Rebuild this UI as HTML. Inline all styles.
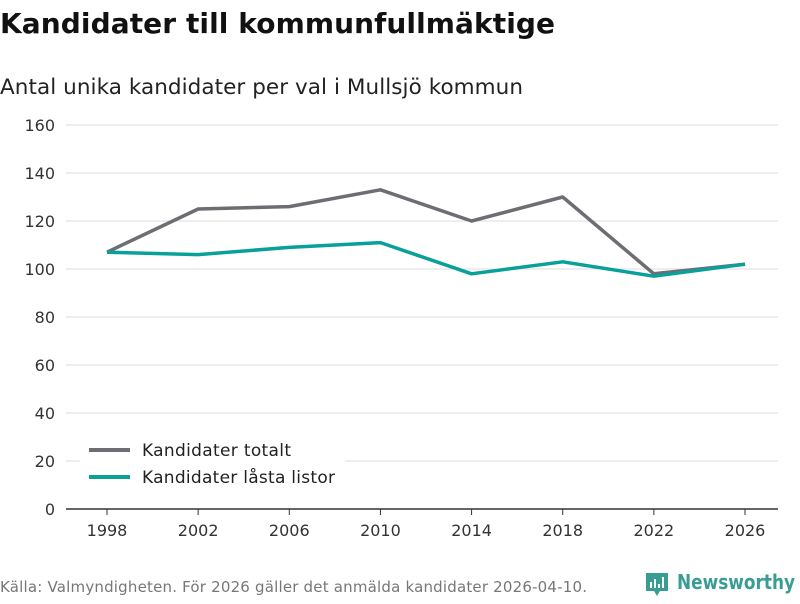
<!DOCTYPE html>
<html><head><meta charset="utf-8"><style>
body{margin:0;width:800px;height:600px;background:#fff;font-family:"DejaVu Sans","Liberation Sans",sans-serif;overflow:hidden}
</style></head><body>
<svg id="c" width="800" height="600" xmlns="http://www.w3.org/2000/svg">
<text x="0" y="33" font-size="28" font-weight="bold" fill="#111" textLength="555">Kandidater till kommunfullmäktige</text>
<text x="0" y="94" font-size="21.5" fill="#222" textLength="523">Antal unika kandidater per val i Mullsjö kommun</text>
<g id="grid"></g><g id="lines"></g>
<g>
<rect x="80" y="436" width="265" height="58" fill="#fff"/>
<line x1="89" y1="450" x2="130" y2="450" stroke="#6e6d73" stroke-width="4"/>
<text x="142" y="456" font-size="17" fill="#222" textLength="149">Kandidater totalt</text>
<line x1="89" y1="477" x2="130" y2="477" stroke="#0aa09a" stroke-width="4"/>
<text x="142" y="483" font-size="17" fill="#222" textLength="193">Kandidater låsta listor</text>
</g>
<text x="0" y="592" font-size="15" fill="#777" textLength="587">Källa: Valmyndigheten. För 2026 gäller det anmälda kandidater 2026-04-10.</text>
<g>
<path d="M646 573h22v18h-8l-3 5-3-5h-8z" fill="#3a9d93"/>
<rect x="650" y="582" width="2" height="6" fill="#fff"/><rect x="654" y="579" width="2" height="9" fill="#fff"/><rect x="658" y="584" width="2" height="4" fill="#fff"/><rect x="662" y="577" width="2" height="11" fill="#fff"/>
<text x="677" y="589" font-size="20" fill="#3a9d93" font-weight="bold" textLength="118" lengthAdjust="spacingAndGlyphs">Newsworthy</text>
</g>
</svg>
<script>
const years=[1998,2002,2006,2010,2014,2018,2022,2026];
const totalt=[107,125,126,133,120,130,98,102];
const lasta=[107,106,109,111,98,103,97,102];
const yTicks=[0,20,40,60,80,100,120,140,160];
const NS="http://www.w3.org/2000/svg";
const x=v=>107+(v-1998)*(745-107)/28;
const y=v=>509-v*2.4;
const g=document.getElementById('grid'),L=document.getElementById('lines');
function mk(t,a,p){const e=document.createElementNS(NS,t);for(const k in a)e.setAttribute(k,a[k]);p.appendChild(e);return e;}
yTicks.forEach(t=>{
 if(t>0){const l=mk('line',{x1:66,x2:778,y1:y(t),y2:y(t),stroke:'#ddd','stroke-width':1},g);
 
 }
 const tx=mk('text',{x:55,y:y(t)+6,'font-size':16,fill:'#333','text-anchor':'end'},g);tx.textContent=t;
 
 
});
const ax=mk('line',{x1:66,x2:778,y1:509,y2:509,stroke:'#333','stroke-width':1.5},g);


years.forEach(yr=>{
 mk('line',{x1:x(yr),x2:x(yr),y1:509,y2:515,stroke:'#333'},g);
 const tx=mk('text',{x:x(yr),y:536,'font-size':16,fill:'#333','text-anchor':'middle'},g);tx.textContent=yr;
 
 
});
function line(d,c,n){const p=mk('polyline',{points:d.map((v,i)=>x(years[i])+','+y(v)).join(' '),fill:'none',stroke:c,'stroke-width':3.5,'stroke-linejoin':'round'},L);
 
 }
line(totalt,'#6e6d73','line-totalt');
line(lasta,'#0aa09a','line-lasta');
</script>
</body></html>
